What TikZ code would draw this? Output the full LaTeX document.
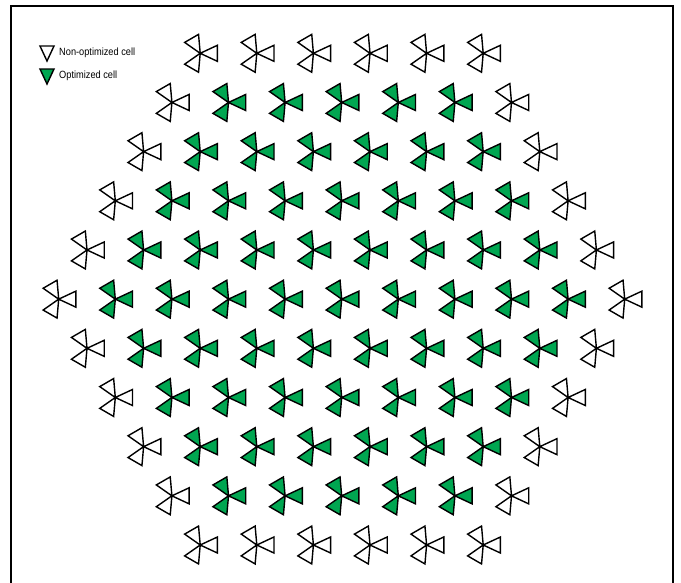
\documentclass[tikz,border=0pt]{standalone}
\usepackage{fontspec}
\setmainfont{Liberation Sans}
\newfontfamily\legendfont[FakeStretch=0.88]{Liberation Sans}
\definecolor{optgreen}{RGB}{0,166,81}
\tikzset{
  sector/.style={draw=black, line width=1.4pt, line join=miter},
  frameline/.style={draw=black, line width=2.4pt},
  legendtext/.style={anchor=west, inner sep=0pt, font=\legendfont\fontsize{10.5}{12}\selectfont}
}
\begin{document}
\begin{tikzpicture}[x=1pt,y=-1pt]
\useasboundingbox (0,0) rectangle (681,582);
\draw[frameline] (11,585) -- (11,6) -- (673,6) -- (673,585);
% legend
\filldraw[sector, fill=white] (40,46) -- (54,46) -- (47,61) -- cycle;
\node[legendtext] (legW) at (59,53) {Non-optimized cell};
\filldraw[sector, fill=optgreen] (40,69) -- (54,69) -- (47,84) -- cycle;
\node[legendtext] (legG) at (59,76) {Optimized cell};
% sites
\foreach \r in {0,...,10}{
  \pgfmathtruncatemacro\n{11-abs(\r-5)}
  \foreach \k in {1,...,\n}{
    \pgfmathsetmacro\px{341.7+56.6*(\k-1-(\n-1)/2)}
    \pgfmathsetmacro\py{53.3+49.17*\r}
    \pgfmathtruncatemacro\outer{or(or(\r==0,\r==10),or(\k==1,\k==\n))}
    \ifnum\outer=1 \def\fc{white}\else\def\fc{optgreen}\fi
    \foreach \a in {0,120,240}{
      \filldraw[sector, fill=\fc, shift={(\px,\py)}] (0,0) -- (\a-25:19) -- (\a+25:19) -- cycle;
    }
  }
}
\end{tikzpicture}
\end{document}
